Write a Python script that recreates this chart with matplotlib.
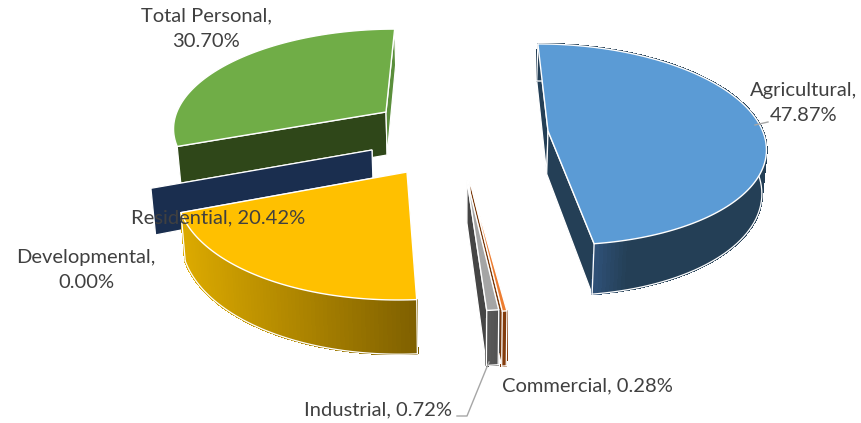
import numpy as np
import matplotlib
matplotlib.use("Agg")
import matplotlib.pyplot as plt
from matplotlib.patches import Polygon
from matplotlib.colors import to_rgb

# slices in clockwise order, starting at 12 o'clock
names = ["Agricultural", "Commercial", "Industrial", "Residential", "Developmental", "Total Personal"]
values = [47.87, 0.28, 0.72, 20.42, 0.00, 30.70]

# look of each slice
top_colors = ["#5b9bd5", "#ed7d31", "#a5a5a5", "#ffc000", "#1a2e4f", "#70ad47"]
face_colors = ["#243f56", "#7a3a0c", "#454545", "#7f6000", "#1a2e4f", "#2f4719"]
end_face_colors = ["#243f56", "#7a3a0c", "#454545", "#7f6000", "#1a2e4f", "#5a8e3b"]
rim_left = ["#30527a", "#843c0c", "#5a5a5a", "#dcaa00", "#1a2e4f", "#2f4719"]
rim_right = ["#243f56", "#843c0c", "#525252", "#7f6000", "#1a2e4f", "#2f4719"]
has_rim = [True, True, True, True, False, False]

# exploded position of the tip of each slice on the picture
tips = [(548, 131), (470, 181), (467, 180), (407, 172), (372, 150), (386, 112)]
draw_order = [5, 4, 0, 3, 1, 2]

# perspective of the pie
X0, Y0 = 462, 134
A, B, P = 215.5, 99.5, 0.134
H = 43
BOTTOM = 0.985

# label text positions
label_lines = [True, False, False, False, True, True]
label_pos = [(804, 103), (587, 386), (378, 410), (218, 218), (86, 270), (206, 29)]


def project(wx, wy):
    k = 1 / (1 + P * wy)
    return X0 + A * wx * k, Y0 - B * wy * k, k


def unproject(x, y):
    wy = (Y0 - y) / (B - P * (Y0 - y))
    wx = (x - X0) * (1 + P * wy) / A
    return wx, wy


def top_and_bottom(tip, theta):
    wx0, wy0 = unproject(*tip)
    x, y, k = project(wx0 + np.sin(theta), wy0 + np.cos(theta))
    xb = X0 + (x - X0) * BOTTOM
    yb = y + H * k ** 1.15
    return np.array([x, y]), np.array([xb, yb])


def mix(c1, c2, t):
    c1, c2 = np.array(to_rgb(c1)), np.array(to_rgb(c2))
    return tuple(c1 + (c2 - c1) * t)


fig = plt.figure(figsize=(8.62, 4.23), dpi=100)
ax = fig.add_axes([0, 0, 1, 1])
ax.set_xlim(0, 862)
ax.set_ylim(423, 0)
ax.axis("off")

ends = np.cumsum(values)
starts = ends - np.array(values)

for i in draw_order:
    t0 = np.radians(starts[i] * 3.6)
    t1 = np.radians(ends[i] * 3.6)
    tip = tips[i]
    tip_b = np.array([X0 + (tip[0] - X0) * BOTTOM, tip[1] + H])
    z = 2 + draw_order.index(i)

    # flat walls from the tip to the rim
    for t, col in [(t0, face_colors[i]), (t1, end_face_colors[i])]:
        top, bot = top_and_bottom(tip, t)
        ax.add_patch(Polygon([tip, top, bot, tip_b], closed=True, fc=col, ec="white", lw=0.9, zorder=z))

    if values[i] == 0:
        continue

    # rim, split up for the gradient
    n = max(int((t1 - t0) * 60), 4)
    th = np.linspace(t0, t1, n + 1)
    pts = [top_and_bottom(tip, t) for t in th]
    tops = np.array([p[0] for p in pts])
    bots = np.array([p[1] for p in pts])
    if has_rim[i]:
        front = np.cos(th) < 0.15
        xmin, xmax = tops[front, 0].min(), tops[front, 0].max()
        for j in range(n):
            f = np.clip((tops[j, 0] - xmin) / max(xmax - xmin, 1), 0, 1)
            if i == 0:
                # dark nearly everywhere, only the front corner is lighter
                f = min(f * 5, 1) if front[j] else 1
            col = mix(rim_left[i], rim_right[i], f)
            ax.add_patch(Polygon([tops[j], tops[j + 1], bots[j + 1], bots[j]], closed=True,
                                 fc=col, ec=col, lw=1.0, antialiased=False, zorder=z))
        ax.plot(bots[:, 0], bots[:, 1], color="white", lw=0.9, zorder=z)
        ax.plot([tops[-1, 0], bots[-1, 0]], [tops[-1, 1], bots[-1, 1]], color="white", lw=0.9, zorder=z)
        ax.plot([tops[0, 0], bots[0, 0]], [tops[0, 1], bots[0, 1]], color="white", lw=0.9, zorder=z)

    # top of the slice
    ax.add_patch(Polygon(np.vstack([tip, tops]), closed=True, fc=top_colors[i], ec="white", lw=1.0, zorder=z))

# leader lines
ax.plot([755, 768], [125, 122], color="#a6a6a6", lw=1, zorder=10)
ax.plot([457, 467, 489], [416, 416, 362], color="#a6a6a6", lw=1, zorder=10)

for i, name in enumerate(names):
    sep = ",\n" if label_lines[i] else ", "
    ax.text(label_pos[i][0], label_pos[i][1], f"{name}{sep}{values[i]:.2f}%", ha="center", va="center",
            family="Lato", fontsize=14.5, color="#404040", linespacing=1.6, zorder=12)

fig.savefig("out.png", dpi=100)
